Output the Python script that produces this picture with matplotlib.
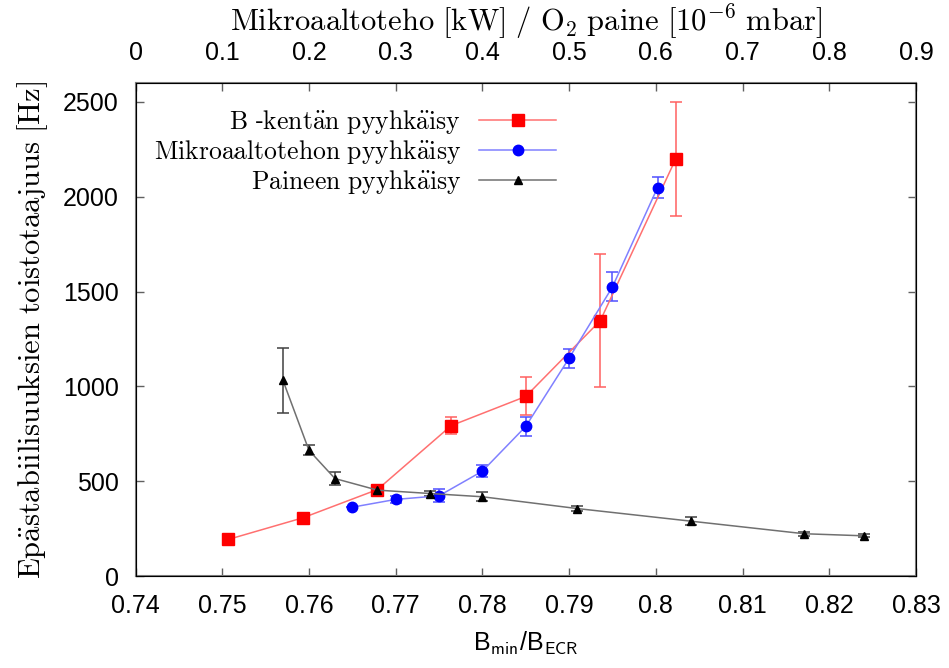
import numpy as np
import matplotlib
matplotlib.use('Agg')
import matplotlib.pyplot as plt
from matplotlib.lines import Line2D

plt.rcParams['mathtext.fontset'] = 'cm'
plt.rcParams['font.family'] = ['Liberation Sans', 'DejaVu Sans']

# B-kentan pyyhkaisy
b_x = [0.7507, 0.7593, 0.7679, 0.7764, 0.7850, 0.7936, 0.8023]
b_y = [193, 307, 456, 793, 947, 1347, 2200]
b_err = [0, 15, 25, 45, 100, 350, 300]

# Mikroaaltotehon pyyhkaisy
mw_x = [0.7650, 0.7700, 0.7750, 0.7800, 0.7850, 0.7900, 0.7950, 0.8002]
mw_y = [363, 404, 423, 553, 789, 1149, 1525, 2049]
mw_err = [0, 20, 35, 33, 50, 50, 76, 53]

# Paineen pyyhkaisy
p_x = [0.7570, 0.7600, 0.7630, 0.7679, 0.7740, 0.7800, 0.7909, 0.8041, 0.8171, 0.8240]
p_y = [1032, 663, 514, 453, 435, 418, 356, 289, 223, 212]
p_err = [170, 27, 35, 15, 15, 25, 15, 20, 10, 8]

xticks = [0.74, 0.75, 0.76, 0.77, 0.78, 0.79, 0.80, 0.81, 0.82, 0.83]
xticklabels = ['0.74', '0.75', '0.76', '0.77', '0.78', '0.79', '0.8', '0.81', '0.82', '0.83']
top_ticks = [0, 0.1, 0.2, 0.3, 0.4, 0.5, 0.6, 0.7, 0.8, 0.9]
top_labels = ['0', '0.1', '0.2', '0.3', '0.4', '0.5', '0.6', '0.7', '0.8', '0.9']
yticks = [0, 500, 1000, 1500, 2000, 2500]

fig = plt.figure(figsize=(9.49, 6.68), dpi=100)
ax = fig.add_axes([0.1428, 0.1377, 0.8224, 0.738])

series = [
    (b_x, b_y, b_err, '#ff7070', '#ff0000', '#ff6060', 's', 8,
     r'$\mathrm{B}$ -$\mathrm{kent\ddot{a}n\ pyyhk\ddot{a}isy}$'),
    (mw_x, mw_y, mw_err, '#8080ff', '#0000ff', '#5050ff', 'o', 7.5,
     r'$\mathrm{Mikroaaltotehon\ pyyhk\ddot{a}isy}$'),
    (p_x, p_y, p_err, '#707070', '#000000', '#404040', '^', 6,
     r'$\mathrm{Paineen\ pyyhk\ddot{a}isy}$'),
]

handles = []
for xs, ys, es, lc, mc, ec, mk, ms, lab in series:
    ax.errorbar(xs, ys, yerr=es, color=lc, ecolor=ec, elinewidth=1.1,
                capsize=4, capthick=1.1, lw=1.1, marker=mk, ms=ms,
                mfc=mc, mec=mc, zorder=3)
    handles.append(Line2D([], [], color=lc, lw=1.1, marker=mk, ms=ms,
                          mfc=mc, mec=mc, label=lab))

ax.set_xlim(0.74, 0.83)
ax.set_ylim(0, 2600)
ax.set_xticks(xticks)
ax.set_xticklabels(xticklabels)
ax.set_yticks(yticks)
ax.tick_params(direction='in', length=6, width=1, color='#606060',
               labelsize=18, pad=12, right=True)
ax.tick_params(axis='x', pad=13)
for s in ax.spines.values():
    s.set_color('#808080')
    s.set_linewidth(1.5)

ax2 = ax.twiny()
ax2.set_xlim(0, 0.9)
ax2.set_xticks(top_ticks)
ax2.set_xticklabels(top_labels)
ax2.tick_params(direction='in', length=6, width=1, color='#606060',
                labelsize=18, pad=13)

ax.set_xlabel(r'B$_{\mathsf{min}}$/B$_{\mathsf{ECR}}$', fontsize=18, labelpad=8)
ax.set_ylabel(r'$\mathrm{Ep\ddot{a}stabiilisuuksien\ toistotaajuus\ [Hz]}$',
              fontsize=22, labelpad=9)
ax2.set_xlabel(r'$\mathrm{Mikroaaltoteho\ [kW]\ /\ O_2\ paine\ [10^{-6}\ mbar]}$',
               fontsize=22, labelpad=7)

ax.legend(handles=handles, loc='upper right', bbox_to_anchor=(0.539, 0.95),
          frameon=False, markerfirst=False, fontsize=18.5, handlelength=3.0,
          borderpad=0, borderaxespad=0, labelspacing=0.08, handletextpad=0.7)

fig.savefig('out.png', dpi=100)
